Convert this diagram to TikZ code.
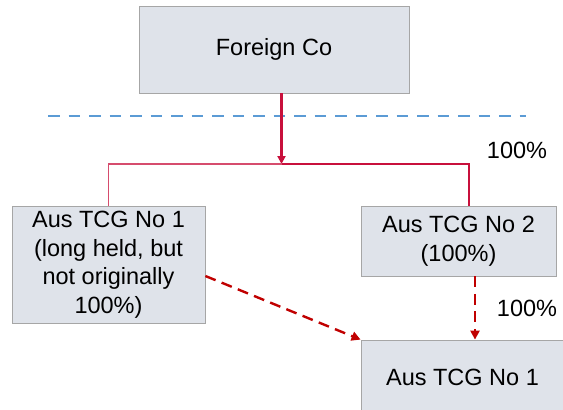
\documentclass[tikz,border=0pt]{standalone}
\usepackage{fontspec}
\setmainfont{Liberation Sans}
\usetikzlibrary{arrows.meta}
\definecolor{boxfill}{HTML}{DFE3EA}
\definecolor{boxline}{HTML}{A6A6A6}
\definecolor{ownred}{HTML}{C8103C}
\definecolor{moved}{HTML}{C00000}
\definecolor{divider}{HTML}{5B9BD5}

\begin{document}
\begin{tikzpicture}[
  x=1pt, y=-1pt,
  every node/.style={font=\fontsize{23.5}{28.5}\selectfont, inner sep=0pt},
  entity/.style={draw=boxline, line width=0.8pt, fill=boxfill, align=center},
  own/.style={draw=ownred, line width=2.4pt},
  ownthin/.style={draw=ownred!75, line width=1.4pt},
  movearrow/.style={draw=moved, line width=2.4pt, dash pattern=on 11pt off 6.5pt,
    -{Triangle[length=9pt,width=9pt]}}
]
\useasboundingbox (0,0) rectangle (563,410);
% entities
\node[entity, minimum width=270pt, minimum height=87pt] (fco) at (274,49.5) {Foreign Co};
\node[entity, minimum width=193pt, minimum height=117pt] (tcga) at (108.5,264.5)
  {Aus TCG No 1\\(long held, but\\not originally\\100\%)};
\node[entity, minimum width=195pt, minimum height=70pt] (tcgb) at (458.5,241)
  {Aus TCG No 2\\(100\%)};
\node[entity, minimum width=203pt, minimum height=74pt] (tcgc) at (462.5,377) {Aus TCG No 1};
% border line
\draw[divider, line width=1.6pt, dash pattern=on 11.5pt off 9pt] (48,116) -- (526,116);
% ownership tree
\coordinate (junc) at (281.5,164);
\draw[own, -{Triangle[length=8pt,width=8pt]}] (fco.south -| junc) -- (junc);
\draw[ownthin] (junc) -- (junc -| tcga.north) -- (tcga.north);
\draw[own] (junc) -- (junc -| 469,0) -- ([xshift=10.5pt]tcgb.north);
\node (pct1) at (517,150) {100\%};
% later holdings
\draw[movearrow] ([yshift=-11.5pt]tcga.east) -- (tcgc.north west);
\draw[movearrow] ([xshift=16.5pt]tcgb.south) -- ([xshift=16.5pt]tcgb.south |- tcgc.north);
\node (pct2) at (527,308) {100\%};
\end{tikzpicture}
\end{document}
